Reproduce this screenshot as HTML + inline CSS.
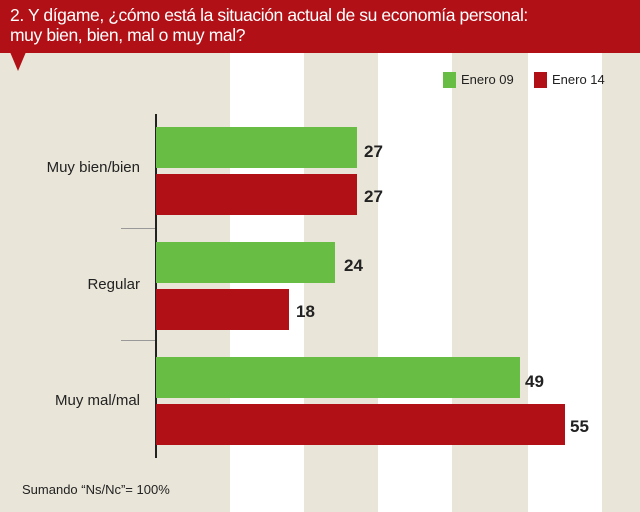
<!DOCTYPE html>
<html><head><meta charset="utf-8"><style>
body{margin:0;}
#c{position:relative;width:640px;height:512px;background:#e9e5d8;overflow:hidden;font-family:"Liberation Sans",sans-serif;}
.s{position:absolute;top:0;height:512px;width:74px;background:#fff;}
.hd{position:absolute;left:0;top:0;width:640px;height:53px;background:#b11116;color:#fff;font-size:17.5px;line-height:20px;padding:5px 0 0 10px;box-sizing:border-box;letter-spacing:-0.4px;}
.tri{position:absolute;left:10px;top:52px;width:0;height:0;border-left:8px solid transparent;border-right:8px solid transparent;border-top:19px solid #b11116;}
.b{position:absolute;left:156px;height:41px;}
.g{background:#68bd45;}.r{background:#b11116;}
.v{position:absolute;font-weight:bold;font-size:17px;color:#222;}
.l{position:absolute;right:500px;font-size:15px;color:#222;text-align:right;white-space:nowrap;}
.t{position:absolute;left:121px;width:34px;height:1px;background:#999;}
.lg{position:absolute;font-size:13px;color:#222;}
</style></head><body><div id="c">
<div class="s" style="left:230px"></div><div class="s" style="left:378px"></div><div class="s" style="left:528px"></div>
<div class="hd">2. Y dígame, ¿cómo está la situación actual de su economía personal:<br>muy bien, bien, mal o muy mal?</div>
<div class="tri"></div>
<div style="position:absolute;left:443px;top:72px;width:13px;height:16px;background:#68bd45"></div>
<div class="lg" style="left:461px;top:72px">Enero 09</div>
<div style="position:absolute;left:534px;top:72px;width:13px;height:16px;background:#b11116"></div>
<div class="lg" style="left:552px;top:72px">Enero 14</div>
<div style="position:absolute;left:155px;top:114px;width:1.5px;height:344px;background:#222"></div>
<div class="t" style="top:228px"></div><div class="t" style="top:340px"></div>
<div class="b g" style="top:127px;width:201px"></div><div class="v" style="left:364px;top:142px">27</div>
<div class="b r" style="top:174px;width:201px"></div><div class="v" style="left:364px;top:187px">27</div>
<div class="b g" style="top:242px;width:179px"></div><div class="v" style="left:344px;top:256px">24</div>
<div class="b r" style="top:289px;width:133px"></div><div class="v" style="left:296px;top:302px">18</div>
<div class="b g" style="top:357px;width:364px"></div><div class="v" style="left:525px;top:372px">49</div>
<div class="b r" style="top:404px;width:409px"></div><div class="v" style="left:570px;top:417px">55</div>
<div class="l" style="top:159px">Muy bien/bien</div>
<div class="l" style="top:276px">Regular</div>
<div class="l" style="top:392px">Muy mal/mal</div>
<div style="position:absolute;left:22px;top:482px;font-size:13px;color:#222">Sumando “Ns/Nc”= 100%</div>
</div></body></html>
